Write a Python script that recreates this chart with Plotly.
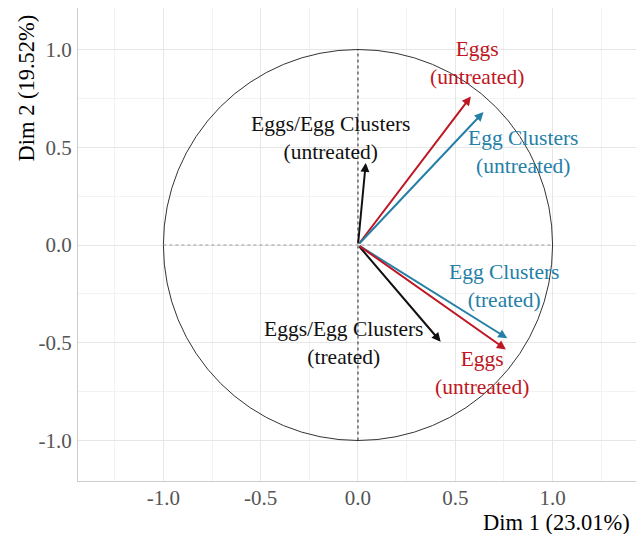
import plotly.graph_objects as go

# Variable loadings (Dim1, Dim2)
var_names = ["Eggs/Egg Clusters (untreated)", "Eggs (untreated)", "Egg Clusters (untreated)",
             "Eggs/Egg Clusters (treated)", "Egg Clusters (treated)", "Eggs (untreated) 2"]
dim1 = [0.04, 0.58, 0.645, 0.425, 0.767, 0.76]
dim2 = [0.42, 0.76, 0.68, -0.495, -0.477, -0.534]
colors = ["#111111", "#BE1622", "#2580A8", "#111111", "#2580A8", "#BE1622"]

label_text = ["Eggs/Egg Clusters<br>(untreated)", "Eggs<br>(untreated)", "Egg Clusters<br>(untreated)",
              "Eggs/Egg Clusters<br>(treated)", "Egg Clusters<br>(treated)", "Eggs<br>(untreated)"]
label_x = [-0.139, 0.612, 0.848, -0.077, 0.75, 0.637]
label_y = [0.547, 0.93, 0.478, -0.50, -0.212, -0.655]

x_title = "Dim 1 (23.01%)"
y_title = "Dim 2 (19.52%)"
tick_vals = [-1.0, -0.5, 0.0, 0.5, 1.0]
tick_text = ["-1.0", "-0.5", "0.0", "0.5", "1.0"]

FONT = "Liberation Serif"

fig = go.Figure()
fig.add_trace(go.Scatter(x=[0], y=[0], mode="markers", marker=dict(size=1, opacity=0),
                         showlegend=False, hoverinfo="skip"))

shapes = [
    dict(type="circle", xref="x", yref="y", x0=-1, x1=1, y0=-1, y1=1,
         line=dict(color="#333333", width=1)),
    dict(type="line", xref="x", yref="y", x0=0, x1=0, y0=-1, y1=1,
         line=dict(color="#222222", width=1, dash="3px,3px")),
    dict(type="line", xref="x", yref="y", x0=-1, x1=1, y0=0, y1=0,
         line=dict(color="#9A9A9A", width=1, dash="3px,3px")),
]

annotations = []
for x, y, c in zip(dim1, dim2, colors):
    annotations.append(dict(x=x, y=y, ax=0, ay=0, xref="x", yref="y", axref="x", ayref="y",
                            showarrow=True, arrowhead=2, arrowsize=0.9, arrowwidth=2,
                            arrowcolor=c, text=""))
for t, x, y, c in zip(label_text, label_x, label_y, colors):
    annotations.append(dict(x=x, y=y, xref="x", yref="y", text=t, showarrow=False,
                            font=dict(family=FONT, size=21.5, color=c), align="center"))

annotations.append(dict(x=1, y=0, xref="paper", yref="paper", text=x_title, showarrow=False,
                        xanchor="right", yanchor="middle", yshift=-41, xshift=-4,
                        font=dict(family=FONT, size=22.5, color="#000000")))
annotations.append(dict(x=0, y=1, xref="paper", yref="paper", text=y_title, showarrow=False,
                        xanchor="center", yanchor="top", textangle=-90, xshift=-52, yshift=-5,
                        font=dict(family=FONT, size=22.5, color="#000000")))

axis_common = dict(
    tickvals=tick_vals, ticktext=tick_text, showgrid=True, gridcolor="#E6E6E6", gridwidth=1,
    minor=dict(showgrid=True, gridcolor="#F2F2F2", dtick=0.25, tick0=0.25),
    zeroline=False, showline=True, linecolor="#CCCCCC", linewidth=1, mirror=True,
    ticks="", tickfont=dict(family=FONT, size=21, color="#555555"), automargin=False,
)

# page body adds an 8px margin, so the figure is sized to fit inside it
fig.update_layout(
    width=628, height=526,
    margin=dict(l=70, r=0, t=0, b=53, autoexpand=False),
    paper_bgcolor="white", plot_bgcolor="white",
    xaxis=dict(range=[-1.4388, 1.4286], ticklabelstandoff=-2, **axis_common),
    yaxis=dict(range=[-1.2072, 1.2123], ticklabelstandoff=1, **axis_common),
    shapes=shapes, annotations=annotations, showlegend=False,
)

fig.write_html("out.html")
